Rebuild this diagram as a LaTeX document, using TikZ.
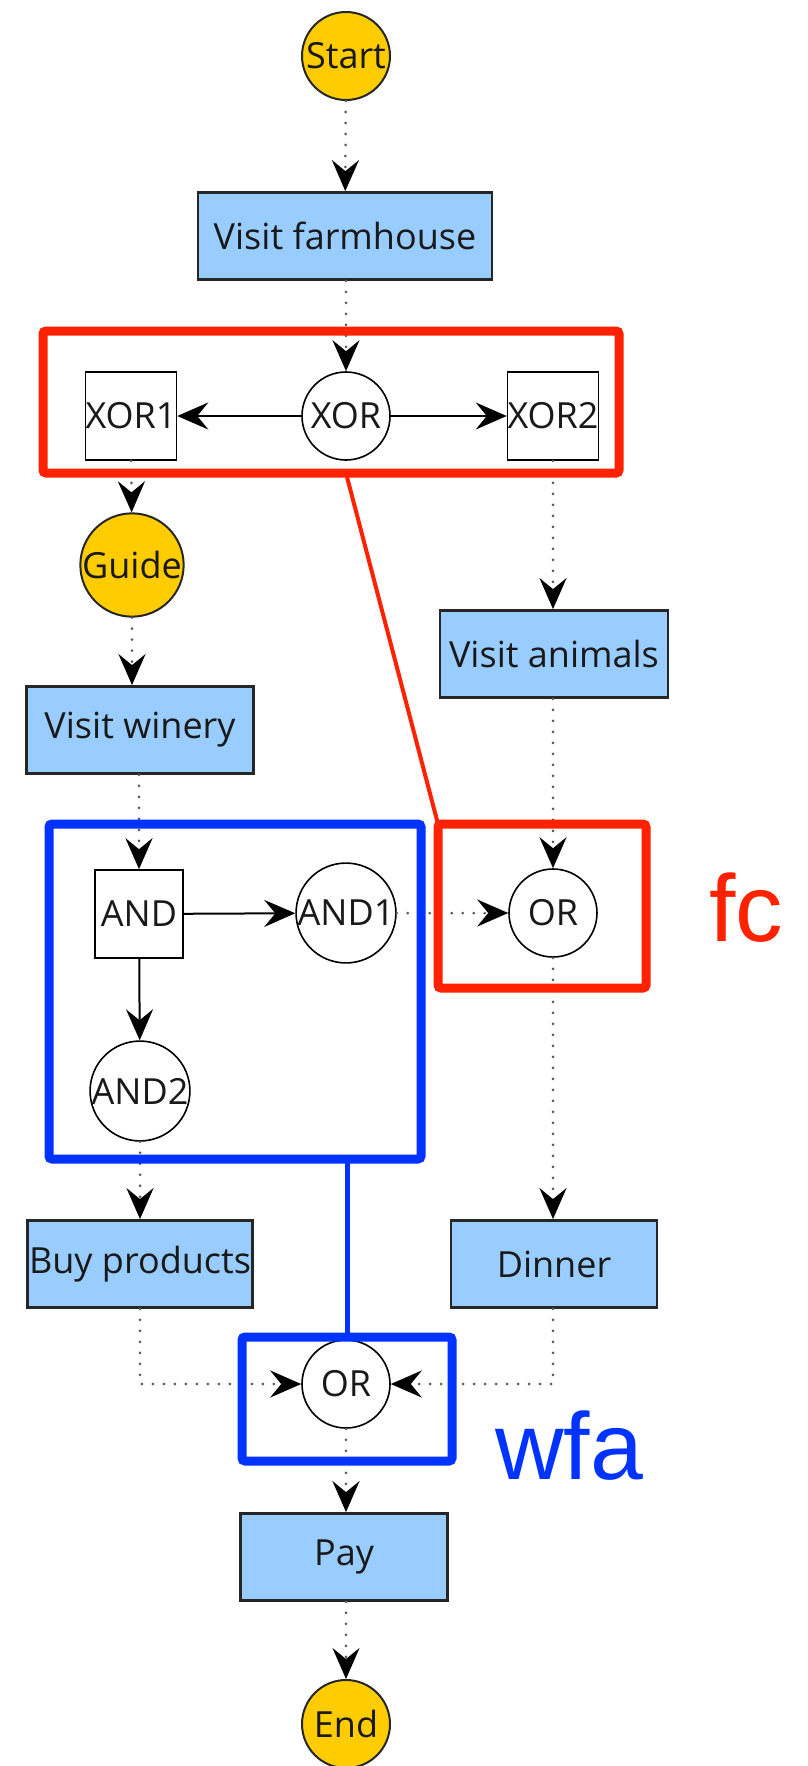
\documentclass[tikz,border=0pt]{standalone}
\usepackage{fontspec}
\setmainfont{Open Sans}
\newfontfamily\labelfont{Liberation Sans}
\usetikzlibrary{arrows.meta}
\definecolor{taskblue}{HTML}{99CCFF}
\definecolor{evgold}{HTML}{FFCC00}
\definecolor{hlred}{HTML}{FF2200}
\definecolor{hlblue}{HTML}{0033FF}
\begin{document}
\begin{tikzpicture}[x=1pt,y=-1pt,
 every node/.style={font=\fontsize{36}{42}\selectfont, text=black!90},
 task/.style={rectangle, draw=black!85, line width=2.8pt, fill=taskblue, minimum height=87pt, inner sep=0pt},
 event/.style={circle, draw=black!85, line width=2pt, fill=evgold, minimum size=88pt, inner sep=0pt},
 gwc/.style={circle, draw=black, line width=1.6pt, fill=white, minimum size=88pt, inner sep=0pt},
 gws/.style={rectangle, draw=black, line width=1.6pt, fill=white, minimum size=88pt, inner sep=0pt},
 tip/.style={-{Stealth[length=31pt,width=27pt,inset=11pt,color=black]}},
 flow/.style={draw=black!65, line width=3pt, line cap=round, dash pattern=on 0pt off 11pt, tip},
 sflow/.style={draw=black, line width=2pt, tip},
 hlr/.style={draw=hlred, line width=9pt, rounded corners=3pt},
 hlb/.style={draw=hlblue, line width=9pt, rounded corners=3pt},
 biglabel/.style={font=\labelfont\fontsize{95}{100}\selectfont}
]
\useasboundingbox (0,0) rectangle (808,1766);

% nodes
\node[event] (start) at (346,56) {Start};
\node[task, minimum width=294pt] (farm) at (345,236) {Visit farmhouse};
\node[gwc] (xor) at (346,416) {XOR};
\node[gws] (xor1) at (131,416) {XOR1};
\node[gws] (xor2) at (553,416) {XOR2};
\node[event] (guide) at (132,565) {Guide};
\node[task, minimum width=228pt] (animals) at (554,654) {Visit animals};
\node[task, minimum width=227pt] (winery) at (140,730) {Visit winery};
\node[gws] (and) at (139,914) {AND};
\node[gwc] (and1) at (346,913) {AND1};
\node[gwc] (or1) at (553,913) {OR};
\node[gwc] (and2) at (140,1091) {AND2};
\node[task, minimum width=225pt] (buy) at (140,1264) {Buy products};
\node[task, minimum width=206pt] (dinner) at (554,1264) {Dinner};
\node[gwc] (or2) at (346,1384) {OR};
\node[task, minimum width=207pt] (pay) at (344,1557) {Pay};
\node[event] (end) at (346,1724) {End};

% flows
\draw[flow] (start) -- (farm);
\draw[flow] (farm.south -| xor) -- (xor);
\draw[sflow] (xor) -- (xor1);
\draw[sflow] (xor) -- (xor2);
\draw[flow] (xor1) -- (guide);
\draw[flow] (guide.south) -- (guide.south |- winery.north);
\draw[flow] (winery.south -| and) -- (and);
\draw[sflow] (and) -- (and1);
\draw[sflow] (and) -- (and2);
\draw[flow] (and1) -- (or1);
\draw[flow] (xor2) -- (xor2 |- animals.north);
\draw[flow] (animals.south -| or1) -- (or1);
\draw[flow] (or1) -- (or1 |- dinner.north);
\draw[flow] (and2) -- (and2 |- buy.north);
\draw[flow] (buy.south) |- (or2);
\draw[flow] (dinner.south -| or1) |- (or2);
\draw[flow] (or2) -- (or2 |- pay.north);
\draw[flow] (pay.south -| end) -- (end);

% highlight boxes
\coordinate (r1a) at (43,331);
\coordinate (r1b) at (619,473);
\coordinate (r2a) at (438,824);
\coordinate (r2b) at (646,988);
\coordinate (b1a) at (49,824);
\coordinate (b1b) at (421,1159);
\coordinate (b2a) at (242,1337);
\coordinate (b2b) at (452,1461);
\draw[hlr] (r1a) rectangle (r1b);
\draw[hlr] (r2a) rectangle (r2b);
\draw[hlb] (b1a) rectangle (b1b);
\draw[hlb] (b2a) rectangle (b2b);
\coordinate (r1s) at (347,477);
\draw[hlred, line width=4pt] (r1s) -- (r2a);
\coordinate (b1s) at (347,1163);
\draw[hlblue, line width=5pt] (b1s) -- (b1s |- b2a);

\node[biglabel, text=hlred, anchor=base] (fc) at (746,941) {fc};
\node[biglabel, text=hlblue, anchor=base] (wfa) at (569,1479) {wfa};
\end{tikzpicture}
\end{document}
